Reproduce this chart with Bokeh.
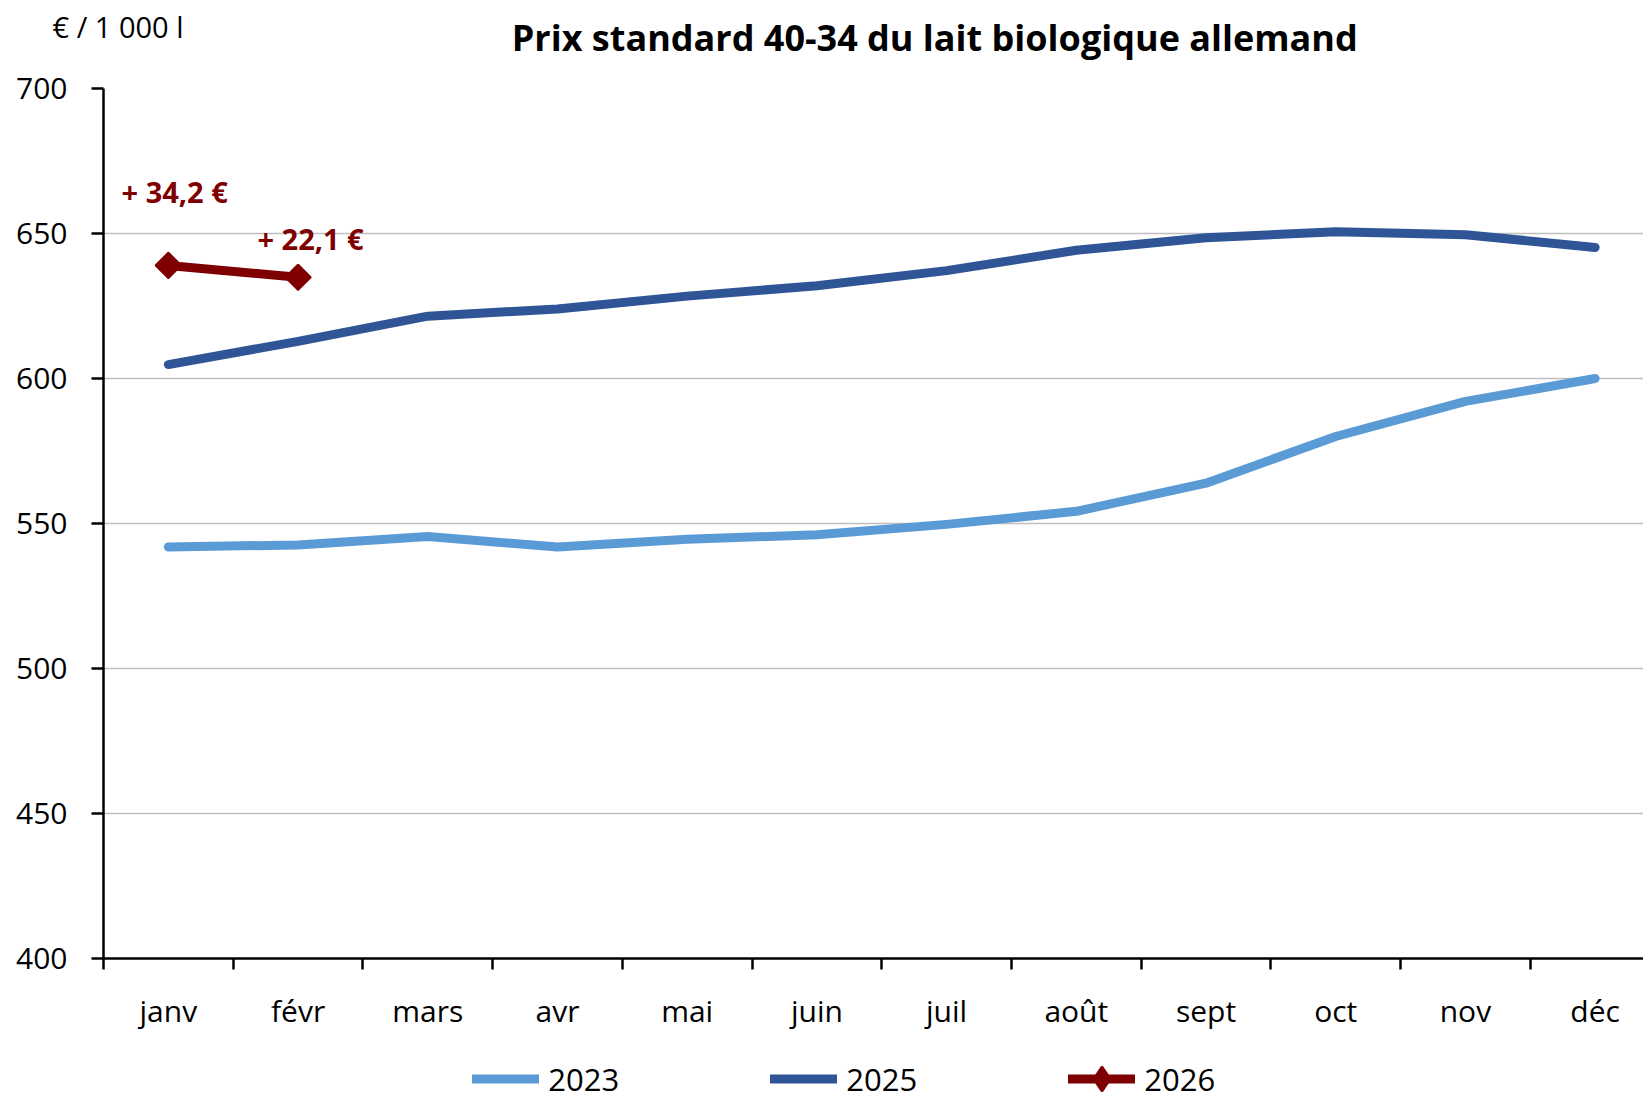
import numpy as np
from bokeh.plotting import figure
from bokeh.layouts import column
from bokeh.models import Range1d, FixedTicker, Label, Legend, LegendItem
from bokeh.core.properties import value
from bokeh.embed import file_html
from bokeh.resources import INLINE

# ---- data ----
months = ["janv", "févr", "mars", "avr", "mai", "juin", "juil", "août", "sept", "oct", "nov", "déc"]
prix_2023 = [541.9, 542.6, 545.5, 541.9, 544.6, 546.1, 549.7, 554.2, 563.9, 580.0, 592.1, 600.0]
prix_2025 = [604.8, 612.8, 621.5, 624.0, 628.4, 632.0, 637.2, 644.2, 648.5, 650.6, 649.6, 645.2]
prix_2026 = [639.0, 634.9]
ecart_2026 = [34.2, 22.1]
y_ticks = [400, 450, 500, 550, 600, 650, 700]
series_names = ["2023", "2025", "2026"]
titre = "Prix standard 40-34 du lait biologique allemand"
unite = "€ / 1 000 l"

FONT = "Open Sans"
C23 = "#5B9BD5"
C25 = "#2F5597"
C26 = "#7F0000"
W = 1643
H_MAIN = 1045
H_LEG = 1100 - H_MAIN

x_pos = [i + 0.5 for i in range(len(months))]

p = figure(width=W, height=H_MAIN, output_backend="svg", toolbar_location=None,
           x_range=Range1d(0, 11.873), y_range=Range1d(400, 700),
           min_border_left=103, min_border_right=0, min_border_top=85, min_border_bottom=87)
p.outline_line_color = None
p.background_fill_color = "white"
p.border_fill_color = "white"

# x axis: ticks between categories, labels at centres
p.xaxis.ticker = FixedTicker(ticks=x_pos, minor_ticks=list(range(len(months) + 1)))
p.xaxis.major_label_overrides = {x: m for x, m in zip(x_pos, months)}
p.xaxis.major_tick_out = 0
p.xaxis.major_tick_in = 0
p.xaxis.minor_tick_out = 11
p.xaxis.minor_tick_in = 0
p.xaxis.minor_tick_line_width = 2.5
p.xaxis.minor_tick_line_color = "black"
p.xaxis.major_label_standoff = 20

# y axis
p.yaxis.ticker = FixedTicker(ticks=y_ticks, minor_ticks=[])
p.yaxis.major_tick_out = 12
p.yaxis.major_tick_in = 0
p.yaxis.major_label_standoff = 24

for ax in (p.xaxis, p.yaxis):
    ax.axis_line_width = 2.5
    ax.axis_line_color = "black"
    ax.major_tick_line_width = 2.5
    ax.major_tick_line_color = "black"
    ax.major_label_text_font = FONT
    ax.major_label_text_font_size = "30px"
    ax.major_label_text_color = "black"

p.xgrid.visible = False
p.ygrid.ticker = FixedTicker(ticks=y_ticks, minor_ticks=[])
p.ygrid.grid_line_color = "#BFBFBF"
p.ygrid.grid_line_width = 1.5

# series
line_kw = dict(line_width=9, line_cap="round", line_join="round")
r23 = p.line(x_pos, prix_2023, line_color=C23, **line_kw)
r25 = p.line(x_pos, prix_2025, line_color=C25, **line_kw)
n26 = len(prix_2026)
r26 = p.line(x_pos[:n26], prix_2026, line_color=C26, **line_kw)
s26 = p.scatter(x_pos[:n26], prix_2026, marker="square", size=17, angle=np.pi / 4,
                fill_color=C26, line_color=C26, line_width=3, line_join="round")

# annotations on the 2026 points (gap vs 2025)
ann_text = [("+ %.1f €" % v).replace(".", ",") for v in ecart_2026]
ann_dx = [-0.361, -0.313]
ann_dy = [25.5, 13.3]
ann_x = [x_pos[i] + ann_dx[i] for i in range(n26)]
ann_y = [prix_2026[i] + ann_dy[i] for i in range(n26)]
p.text(x=ann_x, y=ann_y, text=ann_text, text_font=value(FONT), text_font_style="bold",
       text_font_size="29px", text_color=C26, text_baseline="alphabetic", text_align="left")

# title and unit (in the top panel so they are not clipped to the frame)
p.add_layout(Label(x=6.409, y=717.6, text=titre,
                   text_align="center", text_baseline="alphabetic", text_font=FONT,
                   text_font_size="36px", text_font_style="bold", text_color="black"), "above")
p.add_layout(Label(x=-0.393, y=721.5, text=unite, text_align="left",
                   text_baseline="alphabetic", text_font=FONT, text_font_size="29px",
                   text_color="black"), "above")

# legend strip below the chart (proxy renderers drawn outside the visible range)
leg = figure(width=W, height=H_LEG, output_backend="svg", toolbar_location=None,
             x_range=Range1d(0, 1), y_range=Range1d(0, 1), x_axis_type=None, y_axis_type=None,
             min_border=0, min_border_left=0, min_border_right=0, min_border_top=0,
             min_border_bottom=0)
leg.outline_line_color = None
leg.grid.visible = False
off_x, off_y = [-5, -4], [-5, -5]
g23 = leg.line(off_x, off_y, line_color=C23, **line_kw)
g25 = leg.line(off_x, off_y, line_color=C25, **line_kw)
g26 = leg.line(off_x, off_y, line_color=C26, **line_kw)
m26 = leg.scatter(off_x, off_y, marker="diamond", size=22, fill_color=C26, line_color=C26,
                  line_width=4, line_join="round")
legend = Legend(items=[LegendItem(label=series_names[0], renderers=[g23]),
                       LegendItem(label=series_names[1], renderers=[g25]),
                       LegendItem(label=series_names[2], renderers=[g26, m26])],
                orientation="horizontal", location=(369.3, -6.0),
                glyph_width=67, glyph_height=55, label_height=30, label_width=73,
                label_standoff=9, spacing=149, padding=0, margin=0,
                border_line_color=None, background_fill_alpha=0,
                label_text_font=FONT, label_text_font_size="31px", label_text_color="black")
leg.add_layout(legend)

layout = column(p, leg, spacing=0)
open("out.html", "w").write(file_html(layout, INLINE))
